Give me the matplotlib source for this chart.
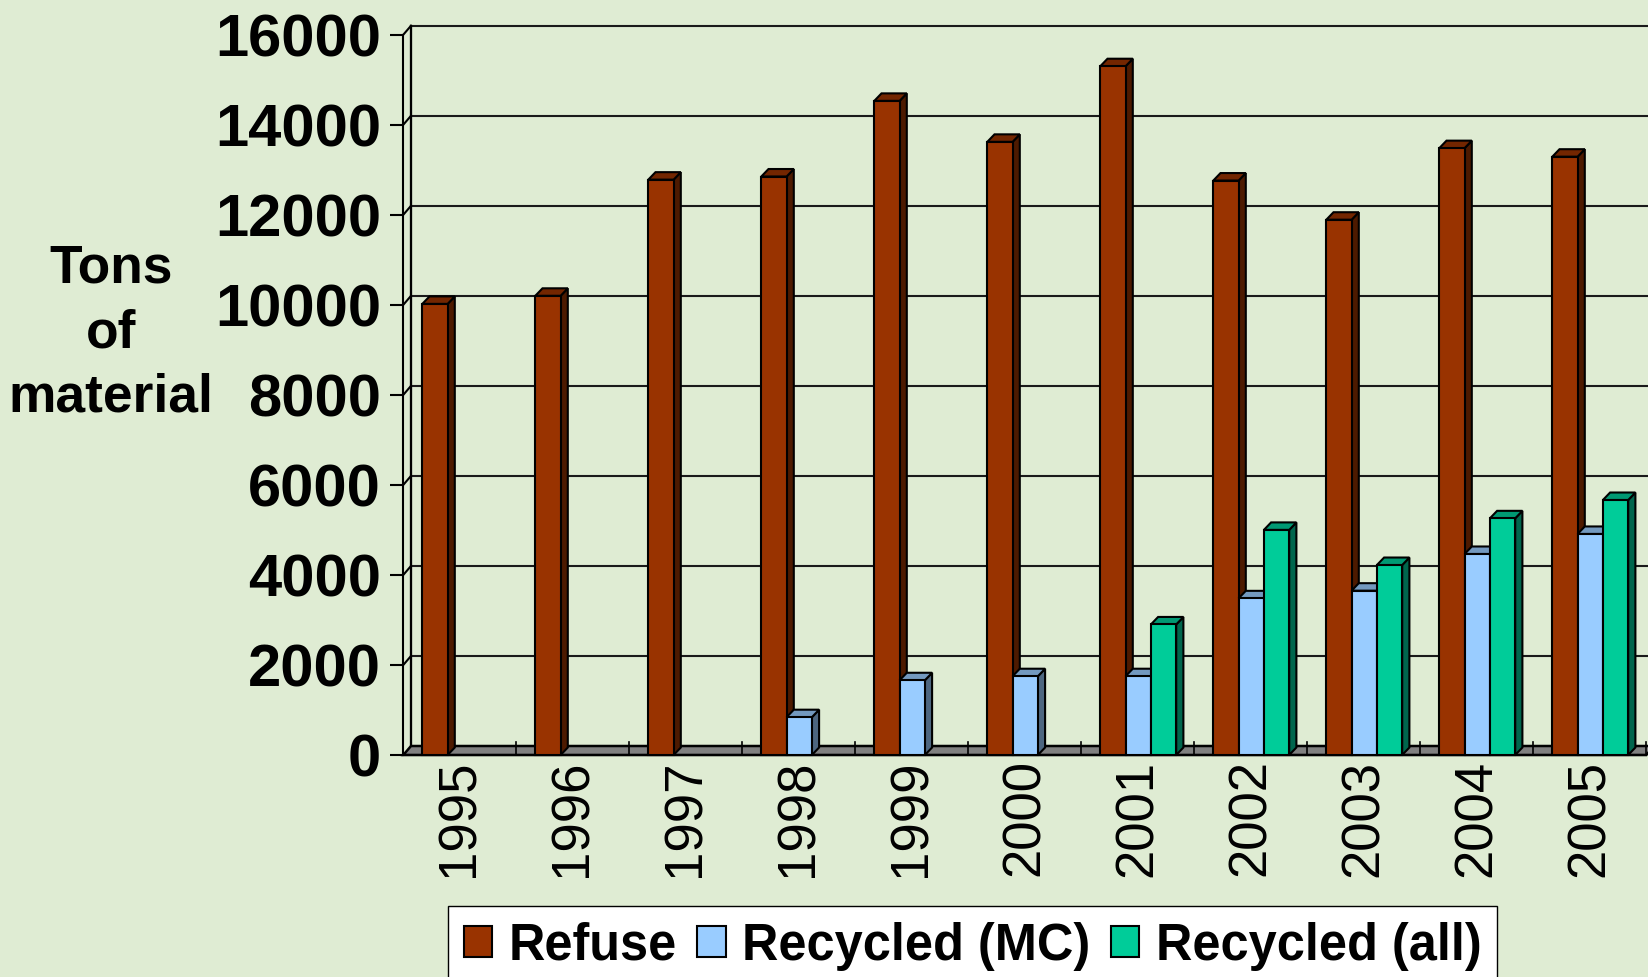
import numpy as np
import matplotlib
matplotlib.use('Agg')
import matplotlib.pyplot as plt
from matplotlib.patches import Patch

years = ['1995', '1996', '1997', '1998', '1999', '2000', '2001', '2002', '2003', '2004', '2005']
refuse = [10020, 10200, 12780, 12850, 14530, 13620, 15300, 12760, 11890, 13480, 13290]
recycled_mc = [np.nan, np.nan, np.nan, 840, 1660, 1750, 1750, 3480, 3650, 4465, 4910]
recycled_all = [np.nan, np.nan, np.nan, np.nan, np.nan, np.nan, 2900, 5000, 4220, 5257, 5664]
series_names = ['Refuse', 'Recycled (MC)', 'Recycled (all)']
y_ticks = [0, 2000, 4000, 6000, 8000, 10000, 12000, 14000, 16000]

bg = '#DFECD3'
# front, side, top
refuse_cols = ('#993300', '#4D1A00', '#732600')
mc_cols = ('#99CCFF', '#4D6680', '#7399BF')
all_cols = ('#00CC99', '#00664D', '#009973')

W, H = 1648, 977
left, right, bottom, top = 403.3, 1646.3, 755.0, 34.7  # plot front plane in pixels
px_x = (right - left) / len(years)
px_y = (bottom - top) / 16000

plt.rcParams['font.family'] = ['Liberation Sans', 'DejaVu Sans']

fig = plt.figure(figsize=(W / 100, H / 100), dpi=100, facecolor=bg)
ax = fig.add_axes([left / W, 1 - bottom / H, (right - left) / W, (bottom - top) / H])
ax.set_facecolor('none')
ax.set_xlim(0, len(years))
ax.set_ylim(0, 16000)

lw = 1.5
wall_dx = 7.7 / px_x
wall_dy = 9 / px_y
bar_dx = 7.2 / px_x
bar_dy = 7.5 / px_y

# back wall and gridlines
for v in y_ticks[1:]:
    ax.plot([0, wall_dx], [v, v + wall_dy], color='black', lw=lw, clip_on=False, zorder=1)
    ax.plot([wall_dx, len(years) + 0.1], [v + wall_dy, v + wall_dy], color='#1a1a1a', lw=lw, clip_on=False, zorder=1)
ax.plot([wall_dx, wall_dx], [wall_dy, 16000 + wall_dy], color='black', lw=lw * 1.1, clip_on=False, zorder=1)

# floor
ax.fill([0, wall_dx, len(years) + wall_dx, len(years)], [0, wall_dy, wall_dy, 0],
        facecolor='#808080', edgecolor='black', lw=lw * 1.2, clip_on=False, zorder=2)
for i in range(1, len(years) + 1):
    ax.plot([i, i], [0, 13 / px_y], color='black', lw=lw * 0.8, clip_on=False, zorder=2.5)

bar_w = 25.3 / px_x
start = 19 / px_x
z = 3
for i in range(len(years)):
    for k, (vals, cols) in enumerate(zip([refuse, recycled_mc, recycled_all], [refuse_cols, mc_cols, all_cols])):
        v = vals[i]
        if np.isnan(v):
            continue
        x0 = i + start + k * bar_w
        x1 = x0 + bar_w
        ax.fill([x1, x1 + bar_dx, x1 + bar_dx, x1], [0, bar_dy, v + bar_dy, v],
                facecolor=cols[1], edgecolor='black', lw=lw, clip_on=False, zorder=z)
        ax.fill([x0, x0 + bar_dx, x1 + bar_dx, x1], [v, v + bar_dy, v + bar_dy, v],
                facecolor=cols[2], edgecolor='black', lw=lw, clip_on=False, zorder=z)
        ax.bar(x0, v, width=bar_w, align='edge', color=cols[0], edgecolor='black', lw=lw,
               clip_on=False, zorder=z + 0.5)
        z += 1

for s in ['top', 'right']:
    ax.spines[s].set_visible(False)
for s in ['left', 'bottom']:
    ax.spines[s].set_linewidth(lw)
    ax.spines[s].set_zorder(2.6)

ax.set_yticks(y_ticks)
ax.set_yticklabels([str(v) for v in y_ticks], fontsize=42.9, fontweight='bold')
ax.tick_params(axis='y', length=9.4, width=lw, pad=6.6)

ax.set_xticks(np.arange(len(years)) + 0.5)
ax.set_xticklabels(years, rotation=90, fontsize=38)
ax.tick_params(axis='x', length=0, pad=3.2)

ax.set_ylabel('Tons\nof\nmaterial', rotation=0, fontsize=38.4, fontweight='bold',
              ha='center', va='center', linespacing=1.36)
ax.yaxis.set_label_coords((111 - left) / (right - left), (bottom - 333) / (bottom - top))

handles = [Patch(facecolor=c[0], edgecolor='black', lw=lw) for c in [refuse_cols, mc_cols, all_cols]]
fig.legend(handles, series_names, loc='upper left', bbox_to_anchor=(448 / W, 1 - 906 / H), ncol=3,
           prop={'size': 36.4, 'weight': 'bold'}, frameon=True, fancybox=False, framealpha=1,
           facecolor='white', edgecolor='black', borderaxespad=0, borderpad=0.31,
           handlelength=0.57, handleheight=0.57, handletextpad=0.32, columnspacing=0.40)

fig.savefig('out.png', dpi=100, facecolor=bg)
